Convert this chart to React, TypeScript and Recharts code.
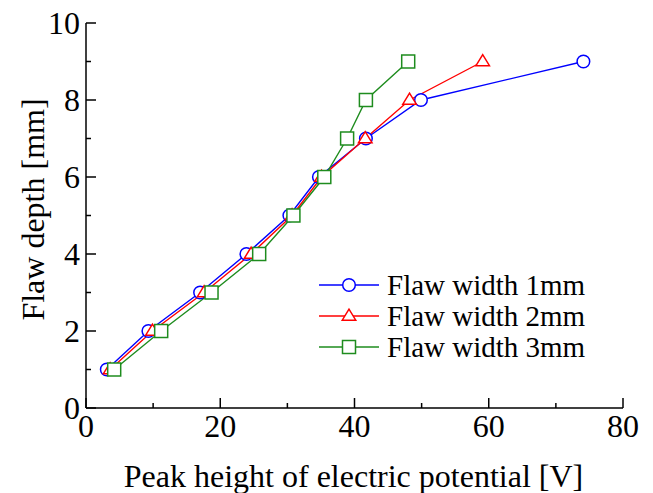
import { LineChart, Line, XAxis, YAxis, Legend, Label } from "recharts";

// flaw depth [mm] for every point
const DEPTHS = [1, 2, 3, 4, 5, 6, 7, 8, 9];
// peak height of electric potential [V], one list per flaw width
const PEAK_W1 = [3.1, 9.3, 17.0, 23.9, 30.3, 34.7, 41.7, 49.9, 74.1];
const PEAK_W2 = [3.6, 9.9, 17.6, 24.6, 30.7, 35.1, 41.6, 48.2, 59.1];
const PEAK_W3 = [4.2, 11.2, 18.7, 25.8, 30.9, 35.5, 38.9, 41.7, 48.0];

const SERIES_NAMES = ["Flaw width 1mm", "Flaw width 2mm", "Flaw width 3mm"];
const SERIES_COLORS = ["#0000ff", "#ff0000", "#1e8c1e"];
const SERIES_SHAPES = ["circle", "triangle", "square"];

const X_TICKS = [0, 10, 20, 30, 40, 50, 60, 70, 80];
const Y_TICKS = [0, 1, 2, 3, 4, 5, 6, 7, 8, 9, 10];

const FONT = '"Liberation Serif", "Times New Roman", serif';

const toPoints = (peaks: number[]) => DEPTHS.map((d, i) => ({ v: peaks[i], d }));
const DATA = [toPoints(PEAK_W1), toPoints(PEAK_W2), toPoints(PEAK_W3)];

function Marker({ shape, cx, cy, color }: { shape: string; cx: number; cy: number; color: string }) {
  if (shape === "circle") {
    return <circle cx={cx} cy={cy} r={6.3} fill="#fff" stroke={color} strokeWidth={1.5} />;
  }
  if (shape === "triangle") {
    const h = 11;
    const w = 13.5;
    const pts = `${cx},${cy - h * 0.62} ${cx - w / 2},${cy + h * 0.38} ${cx + w / 2},${cy + h * 0.38}`;
    return <polygon points={pts} fill="#fff" stroke={color} strokeWidth={1.5} />;
  }
  return <rect x={cx - 6.5} y={cy - 6.5} width={13} height={13} fill="#fff" stroke={color} strokeWidth={1.5} />;
}

// ticks point inward: major ones longer, labels only on bottom/left
function makeTick(side: "bottom" | "top" | "left" | "right", majorEvery: number, withLabel: boolean) {
  return (props: any) => {
    const { x, y, payload } = props;
    const v = payload.value as number;
    const major = v % majorEvery === 0;
    const len = major ? 10 : 5;
    let line;
    if (side === "bottom") line = <line x1={x} x2={x} y1={y} y2={y - len} stroke="#000" strokeWidth={1.5} />;
    else if (side === "top") line = <line x1={x} x2={x} y1={y} y2={y + len} stroke="#000" strokeWidth={1.5} />;
    else if (side === "left") line = <line x1={x} x2={x + len} y1={y} y2={y} stroke="#000" strokeWidth={1.5} />;
    else line = <line x1={x} x2={x - len} y1={y} y2={y} stroke="#000" strokeWidth={1.5} />;
    let label = null;
    if (withLabel && major) {
      if (side === "bottom") {
        label = (
          <text x={x} y={y + 29} textAnchor="middle" fontSize={32} fontFamily={FONT} fill="#000">
            {v}
          </text>
        );
      } else {
        label = (
          <text x={x - 6} y={y + 11} textAnchor="end" fontSize={32} fontFamily={FONT} fill="#000">
            {v}
          </text>
        );
      }
    }
    return (
      <g>
        {line}
        {label}
      </g>
    );
  };
}

const renderLegend = (props: any) => {
  const items = props.payload ?? [];
  return (
    <svg width={290} height={96} style={{ display: "block" }}>
      {items.map((it: any, i: number) => {
        const cy = 15 + i * 31;
        return (
          <g key={`lg-${i}`}>
            <line x1={0} x2={60} y1={cy} y2={cy} stroke={SERIES_COLORS[i]} strokeWidth={1.4} />
            <Marker shape={SERIES_SHAPES[i]} cx={30} cy={cy} color={SERIES_COLORS[i]} />
            <text x={68} y={cy} dy="0.35em" fontSize={29} fontFamily={FONT} fill="#000">
              {it.value}
            </text>
          </g>
        );
      })}
    </svg>
  );
};

const renderXTitle = (props: any) => {
  const vb = props.viewBox;
  return (
    <text x={vb.x + vb.width / 2 - 1} y={vb.y + 79} textAnchor="middle" fontSize={32} fontFamily={FONT} fill="#000">
      Peak height of electric potential [V]
    </text>
  );
};

const renderYTitle = (props: any) => {
  const vb = props.viewBox;
  const tx = vb.x + 44;
  const ty = vb.y + vb.height / 2 - 6;
  return (
    <text x={tx} y={ty} transform={`rotate(-90, ${tx}, ${ty})`} textAnchor="middle" fontSize={32} fontFamily={FONT} fill="#000">
      Flaw depth [mm]
    </text>
  );
};

export default function App() {
  return (
    <div style={{ position: "absolute", left: 0, top: 0, background: "#fff" }}>
      <LineChart width={653} height={493} margin={{ top: 23, right: 30, bottom: 0, left: 0 }}>
        <XAxis
          xAxisId={0}
          dataKey="v"
          type="number"
          domain={[0, 80]}
          ticks={X_TICKS}
          interval={0}
          height={85}
          tickSize={0}
          tickMargin={0}
          tickLine={false}
          tick={makeTick("bottom", 20, true)}
          axisLine={{ stroke: "#000", strokeWidth: 1.5 }}
          allowDataOverflow
        >
          <Label content={renderXTitle} />
        </XAxis>
        <XAxis
          xAxisId="top"
          orientation="top"
          type="number"
          domain={[0, 80]}
          ticks={X_TICKS}
          interval={0}
          height={0}
          tickSize={0}
          tickMargin={0}
          tickLine={false}
          tick={makeTick("top", 20, false)}
          axisLine={{ stroke: "#000", strokeWidth: 1.5 }}
          allowDataOverflow
        />
        <YAxis
          yAxisId={0}
          type="number"
          domain={[0, 10]}
          ticks={Y_TICKS}
          interval={0}
          width={86}
          tickSize={0}
          tickMargin={0}
          tickLine={false}
          tick={makeTick("left", 2, true)}
          axisLine={{ stroke: "#000", strokeWidth: 1.5 }}
          allowDataOverflow
        >
          <Label content={renderYTitle} />
        </YAxis>
        <YAxis
          yAxisId="right"
          orientation="right"
          type="number"
          domain={[0, 10]}
          ticks={Y_TICKS}
          interval={0}
          width={0}
          tickSize={0}
          tickMargin={0}
          tickLine={false}
          tick={makeTick("right", 2, false)}
          axisLine={{ stroke: "#000", strokeWidth: 1.5 }}
          allowDataOverflow
        />
        <Legend
          layout="horizontal"
          verticalAlign="middle"
          align="center"
          content={renderLegend}
          wrapperStyle={{ position: "absolute", left: 319, top: 270, width: 290, height: 96 }}
        />
        {DATA.map((pts, si) => (
          <Line
            key={SERIES_NAMES[si]}
            name={SERIES_NAMES[si]}
            data={pts}
            dataKey="d"
            xAxisId={0}
            yAxisId={0}
            type="linear"
            stroke={SERIES_COLORS[si]}
            strokeWidth={1.4}
            isAnimationActive={false}
            activeDot={false}
            dot={(p: any) => (
              <Marker
                key={`dot-${si}-${p.index}`}
                shape={SERIES_SHAPES[si]}
                cx={p.cx}
                cy={p.cy}
                color={SERIES_COLORS[si]}
              />
            )}
          />
        ))}
      </LineChart>
    </div>
  );
}
